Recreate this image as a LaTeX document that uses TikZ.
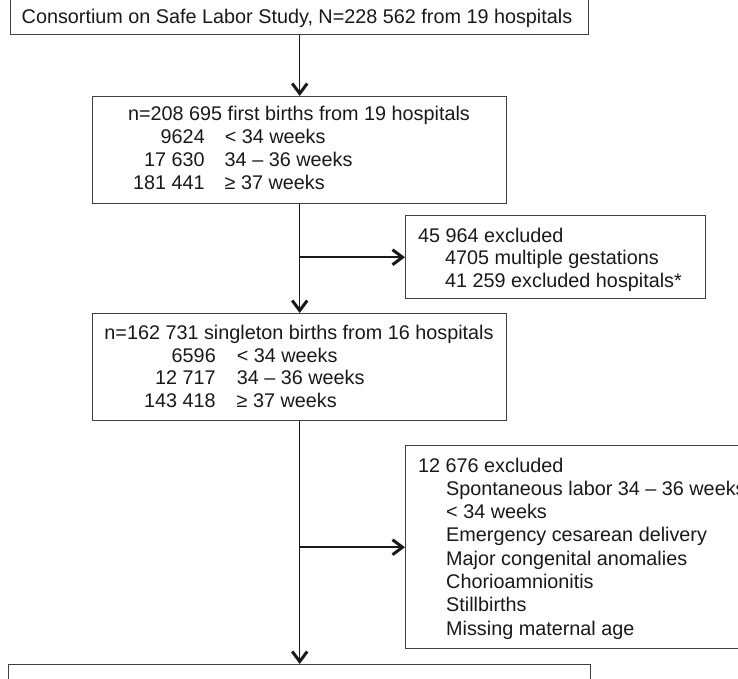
\documentclass[tikz,border=0pt]{standalone}
\usepackage{fontspec}
\setmainfont{Liberation Sans}
\usetikzlibrary{arrows.meta, positioning, calc}

\begin{document}
\begin{tikzpicture}[x=1pt, y=-1pt,
      box/.style={rectangle, draw=black!75, line width=1.4pt, inner sep=0pt, anchor=north west},
      txt/.style={inner sep=0pt, anchor=base west, text=black!90, font=\fontsize{19.8}{22.7}\selectfont},
      longtxt/.style={txt, font=\fontsize{19.8}{23.3}\selectfont},
      arrow/.style={-{Straight Barb[length=10pt, width=15pt, line width=3pt]}, line width=1.5pt, black!90}
    ]
    \useasboundingbox (0,0) rectangle (738,679);
    \clip (0,0) rectangle (738,679);

    % boxes
    \node[box, minimum width=578pt, minimum height=36pt] (consort) at (10,-2) {};
    \node[box, minimum width=414pt, minimum height=107pt] (first) at (92,96) {};
    \node[box, minimum width=300pt, minimum height=83pt] (exclA) at (405,215) {};
    \node[box, minimum width=414pt, minimum height=107pt] (single) at (92,313) {};
    \node[box, minimum width=345pt, minimum height=203pt] (exclB) at (405,445) {};
    \node[box, minimum width=582pt, minimum height=40pt] (final) at (8,664) {};

    % texts
    \node[txt, anchor=base] (consortTxt) at (297,24) {Consortium on Safe Labor Study, N=228 562 from 19 hospitals};
    \node[txt, anchor=base] (firstTxt) at (299,121) {n=208 695 first births from 19 hospitals};
    \node[txt] (firstRows) at (133,144) {\begin{tabular}[t]{@{}r@{\hspace{20pt}}l@{}}
      9624 & < 34 weeks\\
      17 630 & 34 – 36 weeks\\
      181 441 & ≥ 37 weeks
    \end{tabular}};
    \node[txt] (exclATxt) at (418,242) {\begin{tabular}[t]{@{}l@{}}
      45 964 excluded\\
      \hspace{27pt}4705 multiple gestations\\
      \hspace{27pt}41 259 excluded hospitals*
    \end{tabular}};
    \node[txt, anchor=base] (singleTxt) at (299,339) {n=162 731 singleton births from 16 hospitals};
    \node[txt] (singleRows) at (144,362) {\begin{tabular}[t]{@{}r@{\hspace{21pt}}l@{}}
      6596 & < 34 weeks\\
      12 717 & 34 – 36 weeks\\
      143 418 & ≥ 37 weeks
    \end{tabular}};
    \node[longtxt] (exclBTxt) at (418,472) {\begin{tabular}[t]{@{}l@{}}
      12 676 excluded\\
      \hspace{28pt}Spontaneous labor 34 – 36 weeks\\
      \hspace{28pt}< 34 weeks\\
      \hspace{28pt}Emergency cesarean delivery\\
      \hspace{28pt}Major congenital anomalies\\
      \hspace{28pt}Chorioamnionitis\\
      \hspace{28pt}Stillbirths\\
      \hspace{28pt}Missing maternal age
    \end{tabular}};

    % connectors
    \draw[arrow] (consort) -- (first);
    \draw[arrow] (first) -- (single);
    \draw[arrow] (exclA.west -| first.south) -- (exclA.west);
    \draw[arrow] (single) -- (final);
    \draw[arrow] (exclB.west -| single.south) -- (exclB.west);
  \end{tikzpicture}
\end{document}
